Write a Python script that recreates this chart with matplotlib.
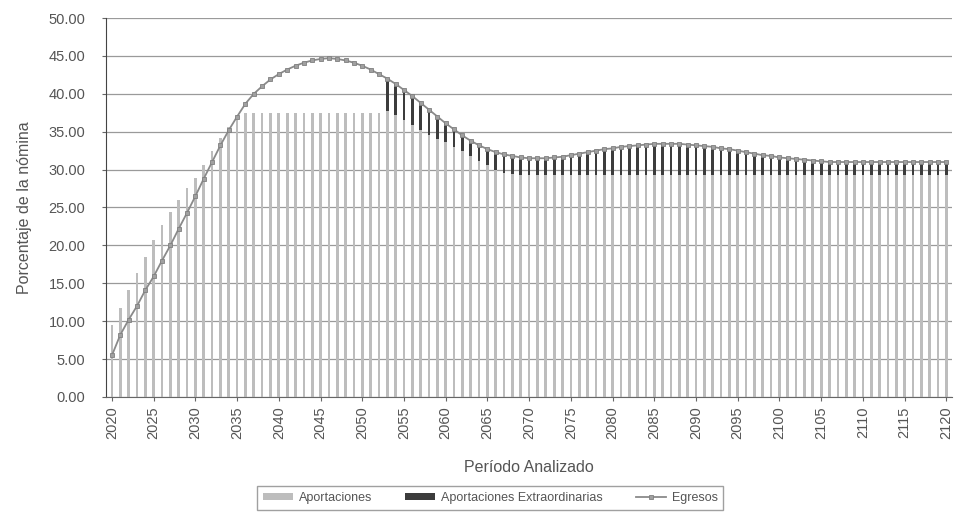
import matplotlib
matplotlib.use("Agg")
import matplotlib.pyplot as plt
import numpy as np

years = list(range(2020, 2121))

egresos = [5.5, 8.2, 10.2, 12.0, 14.1, 15.9, 18.0, 20.0, 22.2, 24.3,
           26.5, 28.8, 31.0, 33.2, 35.2, 37.0, 38.7, 40.0, 41.0, 41.9,
           42.6, 43.2, 43.7, 44.1, 44.4, 44.6, 44.7, 44.6, 44.4, 44.1,
           43.7, 43.2, 42.6, 42.0, 41.3, 40.5, 39.7, 38.8, 37.9, 37.0,
           36.1, 35.3, 34.5, 33.8, 33.2, 32.7, 32.3, 32.0, 31.8, 31.6,
           31.5, 31.5, 31.5, 31.6, 31.7, 31.9, 32.1, 32.3, 32.5, 32.7,
           32.8, 33.0, 33.1, 33.2, 33.3, 33.4, 33.4, 33.4, 33.4, 33.3,
           33.2, 33.1, 33.0, 32.8, 32.7, 32.5, 32.3, 32.1, 31.9, 31.8,
           31.6, 31.5, 31.4, 31.3, 31.2, 31.1, 31.0, 31.0, 31.0, 31.0,
           31.0, 31.0, 31.0, 31.0, 31.0, 31.0, 31.0, 31.0, 31.0, 31.0,
           31.0]

aportaciones = ([9.5, 11.7, 14.1, 16.4, 18.5, 20.7, 22.7, 24.4, 26.0, 27.6,
                 28.9, 30.6, 32.5, 34.2, 35.6, 36.6, 37.5]
                + [37.5] * 16
                + [37.7, 37.2, 36.6, 35.9, 35.2, 34.5, 34.0, 33.6, 33.0, 32.4,
                   31.8, 31.2, 30.6, 30.0, 29.6, 29.4]
                + [29.3] * 52)

extraordinarias = [max(e - a, 0.0) if i >= 33 else 0.0
                   for i, (e, a) in enumerate(zip(egresos, aportaciones))]

y_ticks = [0, 5, 10, 15, 20, 25, 30, 35, 40, 45, 50]
x_tick_years = list(range(2020, 2121, 5))

plt.rcParams['font.family'] = ['Liberation Sans', 'DejaVu Sans']

fig = plt.figure(figsize=(9.56, 5.22), dpi=100)
ax = fig.add_axes([0.111, 0.2395, 0.885, 0.726])

x = np.arange(len(years))
b1 = ax.bar(x, aportaciones, width=0.32, color='#bdbdbd', zorder=2, label='Aportaciones')
b2 = ax.bar(x, extraordinarias, bottom=aportaciones, width=0.32, color='#3c3c3c', zorder=2,
            label='Aportaciones Extraordinarias')
l1, = ax.plot(x, egresos, color='#8a8a8a', lw=1.3, marker='s', ms=3.4,
              mfc='#a0a0a0', mec='#808080', mew=0.6, zorder=3, label='Egresos')

ax.set_ylim(0, 50)
ax.set_xlim(-0.7, 100.7)
ax.set_yticks(y_ticks)
ax.set_yticklabels([f"{v:.2f}" for v in y_ticks], color='#555555', fontsize=10.5)
ax.set_xticks([y - 2020 for y in x_tick_years])
ax.set_xticklabels([str(y) for y in x_tick_years], rotation=90, color='#555555', fontsize=10.5)
ax.yaxis.grid(True, color='#9a9a9a', lw=0.9, zorder=0)
ax.set_axisbelow(True)
for s in ['top', 'right']:
    ax.spines[s].set_visible(False)
ax.spines['left'].set_color('#444444')
ax.spines['bottom'].set_color('#666666')
ax.tick_params(axis='y', length=3, color='#666666', pad=12)
ax.tick_params(axis='x', length=3, color='#666666', pad=4)

ax.set_ylabel('Porcentaje de la nómina', color='#555555', fontsize=11.5, labelpad=12)
ax.set_xlabel('Período Analizado', color='#555555', fontsize=11.5, labelpad=15)

leg = fig.legend(handles=[b1, b2, l1],
                 labels=['Aportaciones', 'Aportaciones Extraordinarias', 'Egresos'],
                 loc='center', bbox_to_anchor=(0.513, 0.046), ncol=3, frameon=True,
                 fontsize=9, handlelength=2.4, handleheight=0.45, columnspacing=2.6,
                 fancybox=False, edgecolor='#888888', borderpad=0.45, borderaxespad=0,
                 handletextpad=0.5)
for t in leg.get_texts():
    t.set_color('#555555')

fig.savefig('out.png', dpi=100)
